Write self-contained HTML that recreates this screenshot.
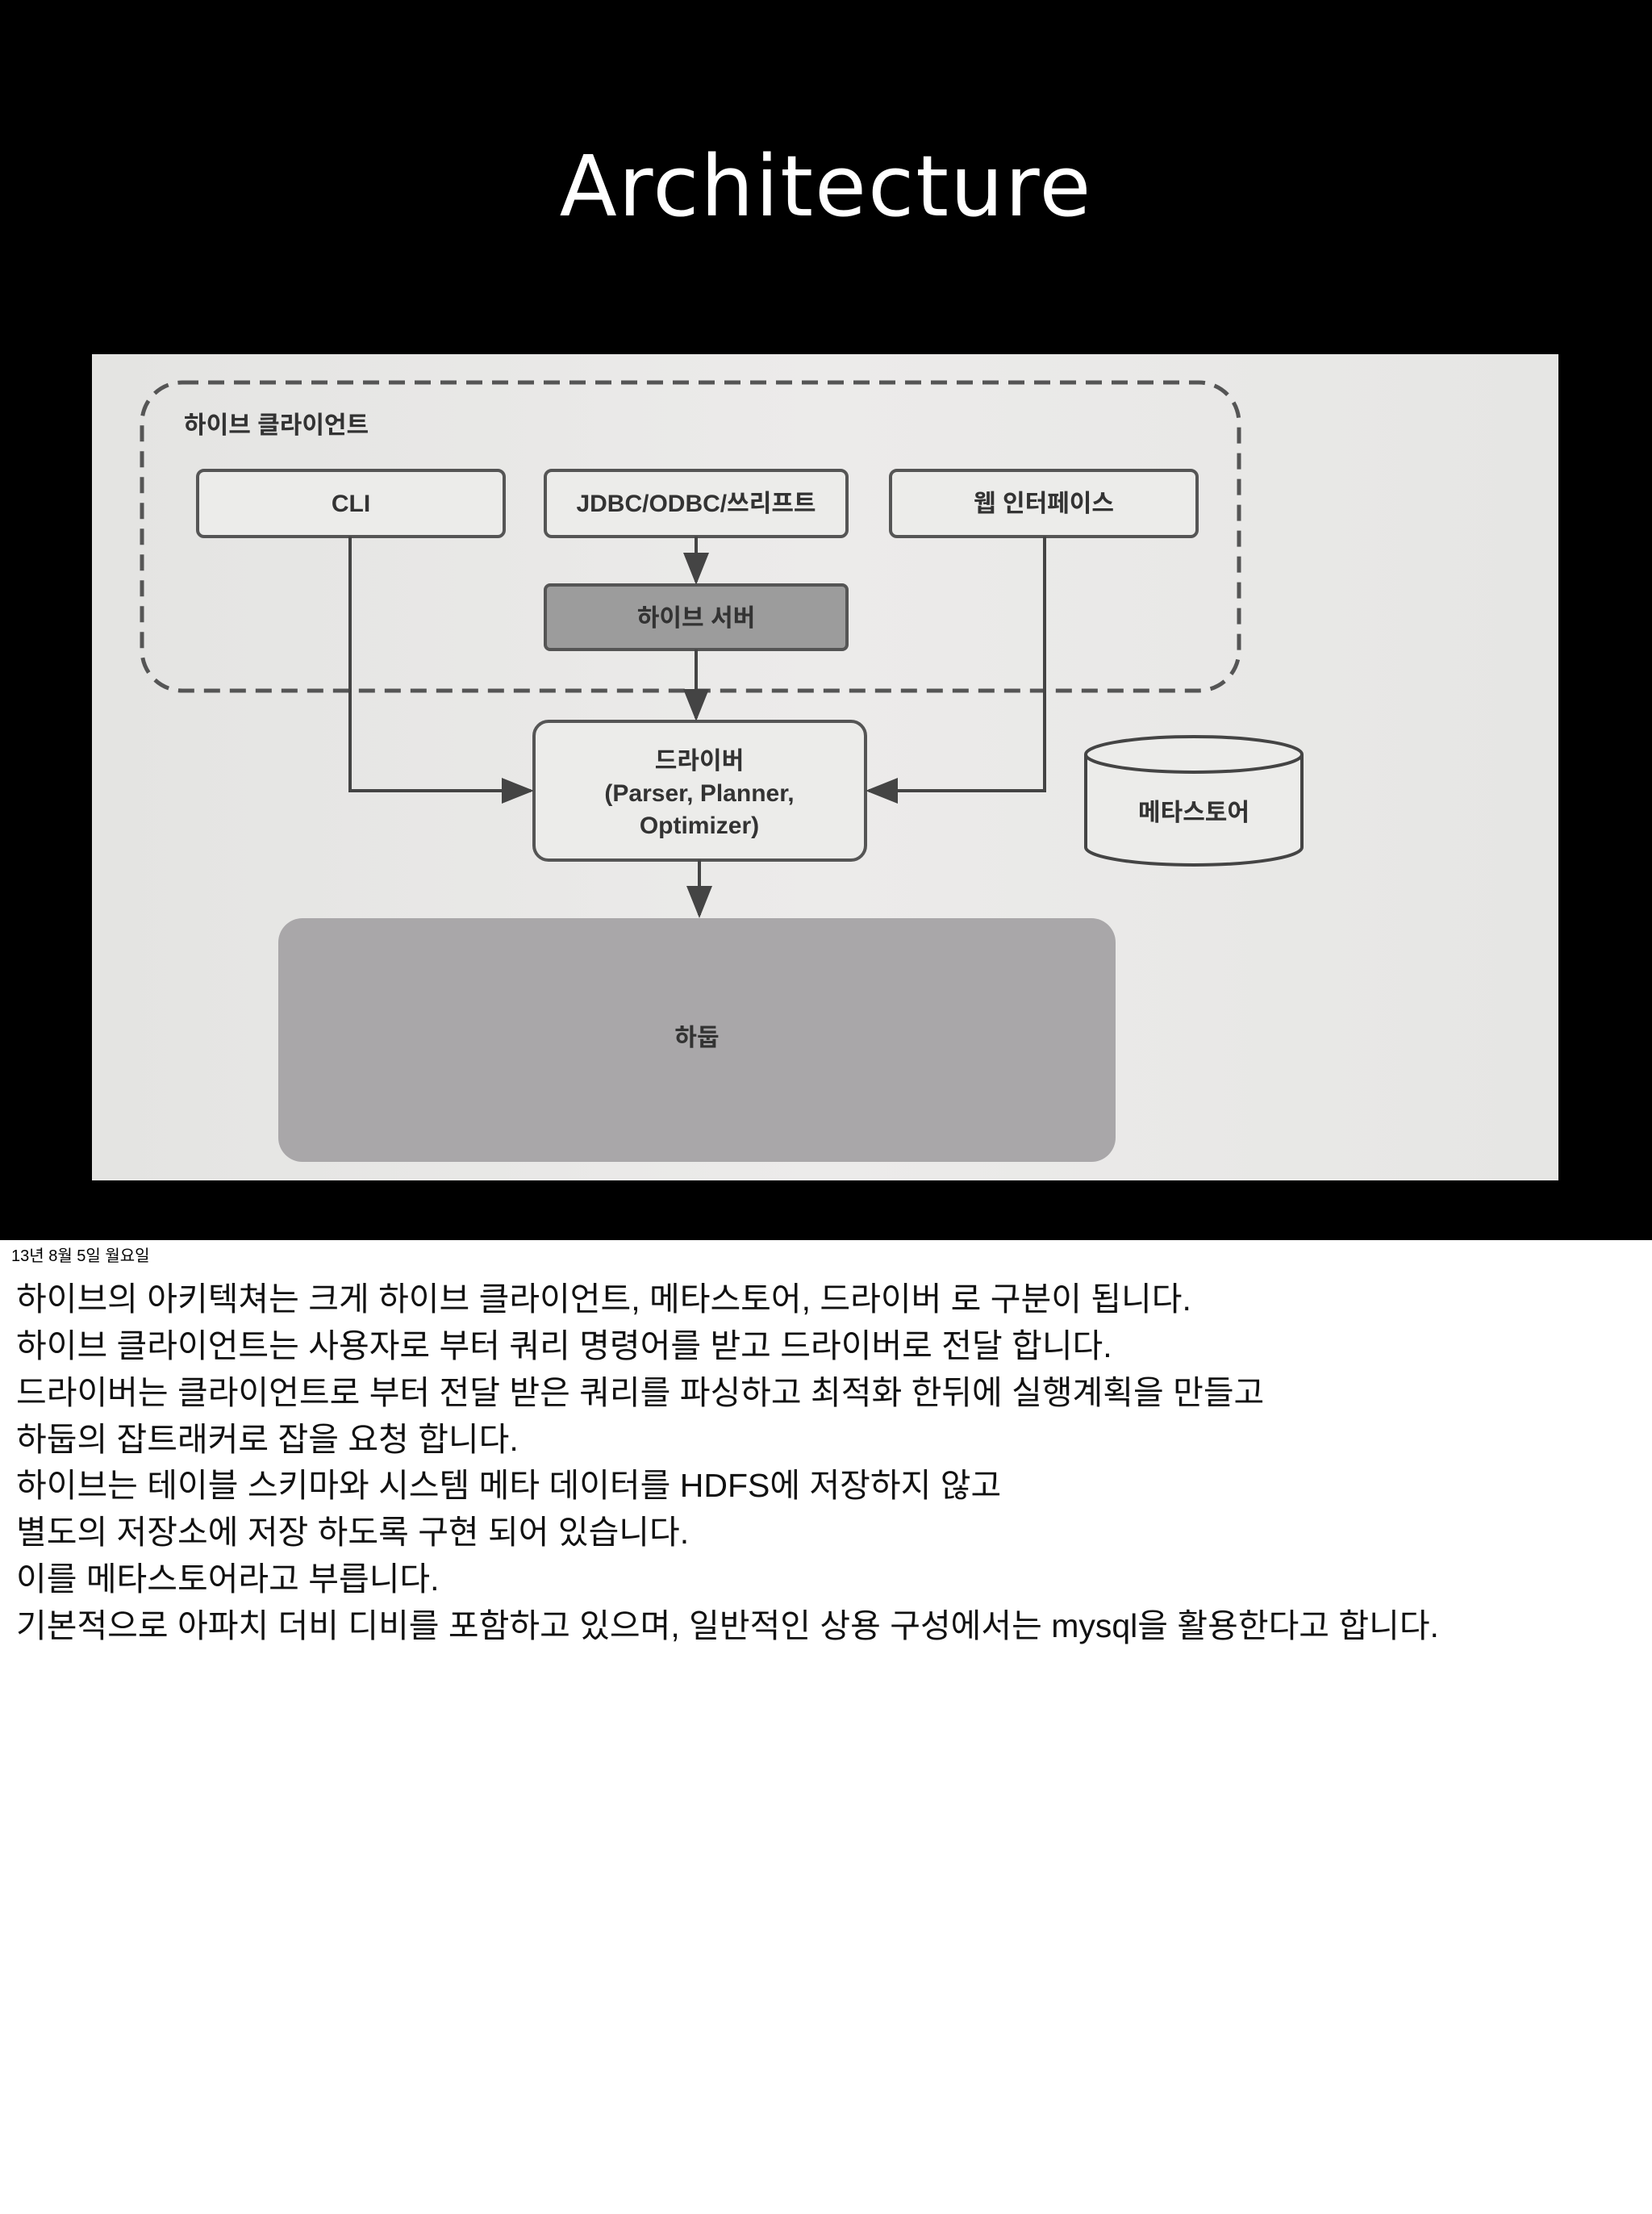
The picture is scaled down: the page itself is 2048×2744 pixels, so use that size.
<!DOCTYPE html>
<html><head><meta charset="utf-8">
<style>
html,body{margin:0;padding:0;}
body{width:2048px;height:2744px;background:#fff;position:relative;overflow:hidden;font-family:"Liberation Sans","Noto Sans CJK KR",sans-serif;}
#top{position:absolute;left:0;top:0;width:2048px;height:1537px;background:#000;}
#title{position:absolute;left:0;width:2048px;top:170px;text-align:center;color:#fff;font-size:104px;font-family:"Comic Sans MS","DejaVu Sans",sans-serif;letter-spacing:2px;}
#photo{position:absolute;left:114px;top:439px;width:1818px;height:1024px;background:linear-gradient(90deg,#e4e4e2,#ecebea 50%,#e6e6e4);}
.date{position:absolute;left:14px;top:1540px;font-size:20px;color:#000;}
.line{position:absolute;left:20px;font-size:41px;color:#111;white-space:nowrap;}
</style></head><body>
<div id="top"><div id="title">Architecture</div></div>
<div id="photo"></div>
<svg width="2048" height="2744" style="position:absolute;left:0;top:0" font-family="Liberation Sans, Noto Sans CJK KR, sans-serif">
<defs><marker id="a" markerWidth="10" markerHeight="10" refX="9" refY="5" orient="auto"><path d="M0,1 L10,5 L0,9z" fill="#444"/></marker></defs>
<rect x="176" y="474" width="1360" height="382" rx="50" fill="none" stroke="#555" stroke-width="5" stroke-dasharray="20,12"/>
<text x="228" y="537" font-size="30" font-weight="bold" fill="#333">하이브 클라이언트</text>
<g stroke="#555" stroke-width="4" fill="#ececea">
<rect x="245" y="583" width="380" height="82" rx="8"/>
<rect x="676" y="583" width="374" height="82" rx="8"/>
<rect x="1104" y="583" width="380" height="82" rx="8"/>
<rect x="676" y="725" width="374" height="80" rx="6" fill="#9c9c9c"/>
<rect x="662" y="894" width="411" height="172" rx="18"/>
</g>
<rect x="345" y="1138" width="1038" height="302" rx="30" fill="#a9a7a9"/>
<g stroke="#444" stroke-width="4" fill="none">
<path d="M1346,935 L1346,1050 A134,22 0 0 0 1614,1050 L1614,935" fill="#ececea"/>
<ellipse cx="1480" cy="935" rx="134" ry="22" fill="#ececea"/>
<path d="M434,665 L434,980 L658,980" marker-end="url(#a)"/>
<path d="M1295,665 L1295,980 L1077,980" marker-end="url(#a)"/>
<path d="M863,665 L863,721" marker-end="url(#a)"/>
<path d="M863,805 L863,890" marker-end="url(#a)"/>
<path d="M867,1066 L867,1134" marker-end="url(#a)"/>
</g>
<g font-size="30" font-weight="bold" fill="#333" text-anchor="middle">
<text x="435" y="634">CLI</text>
<text x="863" y="634">JDBC/ODBC/쓰리프트</text>
<text x="1294" y="634">웹 인터페이스</text>
<text x="863" y="776">하이브 서버</text>
<text x="867" y="953">드라이버</text>
<text x="867" y="993">(Parser, Planner,</text>
<text x="867" y="1033">Optimizer)</text>
<text x="1480" y="1017">메타스토어</text>
<text x="864" y="1296">하둡</text>
</g>
</svg>
<div class="date">13년 8월 5일 월요일</div>
<div class="line" style="top:1576px">하이브의 아키텍쳐는 크게 하이브 클라이언트, 메타스토어, 드라이버 로 구분이 됩니다.</div>
<div class="line" style="top:1634px">하이브 클라이언트는 사용자로 부터 쿼리 명령어를 받고 드라이버로 전달 합니다.</div>
<div class="line" style="top:1692px">드라이버는 클라이언트로 부터 전달 받은 쿼리를 파싱하고 최적화 한뒤에 실행계획을 만들고</div>
<div class="line" style="top:1750px">하둡의 잡트래커로 잡을 요청 합니다.</div>
<div class="line" style="top:1807px">하이브는 테이블 스키마와 시스템 메타 데이터를 HDFS에 저장하지 않고</div>
<div class="line" style="top:1865px">별도의 저장소에 저장 하도록 구현 되어 있습니다.</div>
<div class="line" style="top:1923px">이를 메타스토어라고 부릅니다.</div>
<div class="line" style="top:1981px">기본적으로 아파치 더비 디비를 포함하고 있으며, 일반적인 상용 구성에서는 mysql을 활용한다고 합니다.</div>
</body></html>
